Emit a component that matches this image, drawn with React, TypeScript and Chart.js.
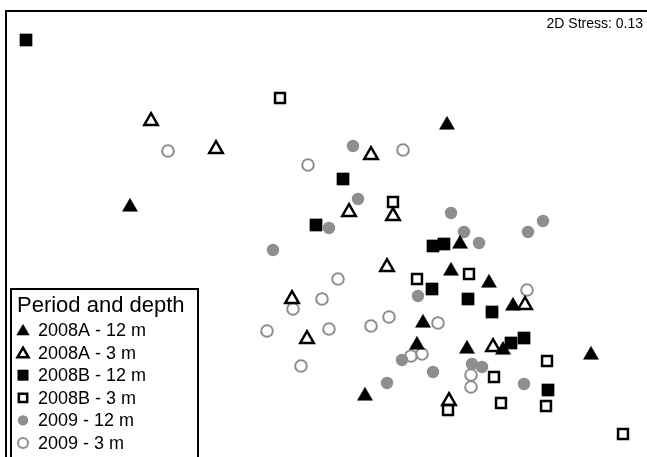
import React, { useEffect, useRef } from "react";
import { Chart, registerables } from "chart.js";
import { drawPoint } from "chart.js/helpers";

Chart.register(...registerables);

// NMDS coordinates (arbitrary units)
const a12x = [-1.90, 1.27, 1.40, 1.31, 1.69, 1.93, 1.03, 0.97, 1.47, 1.83, 2.71, 0.45];
const a12y = [0.13, 0.95, -0.24, -0.51, -0.63, -0.86, -1.03, -1.25, -1.29, -1.30, -1.35, -1.76];

const a3x = [-1.69, -1.04, 0.51, 0.29, 0.73, 0.67, -0.28, -0.13, 2.05, 1.73, 1.29];
const a3y = [0.99, 0.71, 0.65, 0.08, 0.04, -0.47, -0.79, -1.19, -0.85, -1.27, -1.81];

const b12x = [-2.94, 0.23, -0.04, 1.13, 1.24, 1.12, 1.48, 1.72, 1.91, 2.04, 2.28];
const b12y = [1.80, 0.41, -0.05, -0.26, -0.24, -0.69, -0.79, -0.92, -1.23, -1.18, -1.70];

const b3x = [-0.40, 0.73, 0.97, 1.49, 2.27, 1.74, 1.28, 1.81, 2.26, 3.03];
const b3y = [1.22, 0.18, -0.59, -0.54, -1.41, -1.57, -1.90, -1.83, -1.86, -2.14];

const c12x = [0.33, 0.38, 0.09, -0.47, 1.31, 2.23, 2.08, 1.44, 1.59, 0.98, 0.82, 1.13, 0.67, 1.52, 1.62, 2.04];
const c12y = [0.74, 0.21, -0.08, -0.30, 0.07, -0.01, -0.12, -0.12, -0.23, -0.76, -1.40, -1.52, -1.63, -1.44, -1.47, -1.64];

const c3x = [-1.52, -0.12, 0.83, 0.18, 0.02, -0.27, -0.53, 0.09, 0.51, 0.69, 1.18, 2.07, 0.91, 1.02, -0.19, 1.51, 1.51];
const c3y = [0.69, 0.55, 0.70, -0.59, -0.79, -0.89, -1.11, -1.09, -1.06, -0.97, -1.03, -0.70, -1.36, -1.34, -1.46, -1.55, -1.67];

const seriesLabels = ["2008A - 12 m", "2008A - 3 m", "2008B - 12 m", "2008B - 3 m", "2009 - 12 m", "2009 - 3 m"];
const legendTitle = "Period and depth";
const stressLabel = "2D Stress: 0.13";

const GRAY = "#8e8e8e";
const FONT = "'Liberation Sans', Arial, Helvetica, sans-serif";

const pts = (xs: number[], ys: number[]) => xs.map((x, i) => ({ x, y: ys[i] }));

const styles = [
  { pointStyle: "triangle", r: 8.7, bg: "#000", bc: "#000", bw: 0.5, lr: 7.2 },
  { pointStyle: "triangle", r: 7.8, bg: "rgba(0,0,0,0)", bc: "#000", bw: 2.5, lr: 6.4 },
  { pointStyle: "rect", r: 8.6, bg: "#000", bc: "#000", bw: 0.5, lr: 7.4 },
  { pointStyle: "rect", r: 7, bg: "rgba(0,0,0,0)", bc: "#000", bw: 2.5, lr: 5.9 },
  { pointStyle: "circle", r: 6.2, bg: GRAY, bc: GRAY, bw: 0, lr: 5.2 },
  { pointStyle: "circle", r: 5.8, bg: "rgba(0,0,0,0)", bc: GRAY, bw: 2, lr: 5 },
];

const frameAndLegend = {
  id: "frameAndLegend",
  afterDraw(chart: any) {
    const ctx = chart.ctx as CanvasRenderingContext2D;
    ctx.save();
    // plot frame
    ctx.strokeStyle = "#000";
    ctx.lineWidth = 2;
    ctx.beginPath();
    ctx.moveTo(6, 457);
    ctx.lineTo(6, 11);
    ctx.lineTo(647, 11);
    ctx.stroke();

    // stress label
    ctx.fillStyle = "#000";
    ctx.font = `14px ${FONT}`;
    ctx.textAlign = "right";
    ctx.textBaseline = "alphabetic";
    ctx.fillText(stressLabel, 643, 28);

    // legend box
    ctx.fillStyle = "#fff";
    ctx.fillRect(11, 289, 187, 170);
    ctx.strokeStyle = "#000";
    ctx.lineWidth = 2;
    ctx.strokeRect(11, 289, 187, 170);

    ctx.fillStyle = "#000";
    ctx.textAlign = "left";
    ctx.font = `22px ${FONT}`;
    ctx.fillText(legendTitle, 17, 312);

    ctx.font = `18px ${FONT}`;
    seriesLabels.forEach((lab, i) => {
      const base = 336 + i * 22.6;
      const s = styles[i];
      ctx.fillStyle = "#000";
      ctx.fillText(lab, 38, base);
      ctx.fillStyle = s.bg;
      ctx.strokeStyle = s.bc;
      ctx.lineWidth = s.bw;
      drawPoint(ctx, { pointStyle: s.pointStyle as any, radius: s.lr, borderWidth: s.bw, rotation: 0 } as any, 23, base - 6 + (s.pointStyle === "triangle" ? 1.5 : 0));
    });
    ctx.restore();
  },
};

export default function App() {
  const ref = useRef<HTMLCanvasElement | null>(null);
  useEffect(() => {
    if (!ref.current) return;
    const all = [pts(a12x, a12y), pts(a3x, a3y), pts(b12x, b12y), pts(b3x, b3y), pts(c12x, c12y), pts(c3x, c3y)];
    const chart = new Chart(ref.current, {
      type: "scatter",
      data: {
        datasets: all.map((d, i) => ({
          label: seriesLabels[i],
          data: d,
          pointStyle: styles[i].pointStyle as any,
          pointRadius: styles[i].r,
          pointHoverRadius: styles[i].r,
          backgroundColor: styles[i].bg,
          borderColor: styles[i].bc,
          borderWidth: styles[i].bw,
          pointBorderWidth: styles[i].bw,
        })),
      },
      options: {
        animation: false,
        responsive: false,
        maintainAspectRatio: false,
        devicePixelRatio: 1,
        layout: { padding: 0, autoPadding: false },
        plugins: { legend: { display: false }, tooltip: { enabled: false }, title: { display: false } },
        scales: {
          x: { type: "linear", min: -3.2, max: 3.27, display: false },
          y: { type: "linear", min: -2.37, max: 2.2, display: false },
        },
        events: [],
      },
      plugins: [frameAndLegend],
    });
    return () => chart.destroy();
  }, []);
  return (
    <div style={{ position: "fixed", left: 0, top: 0, width: 647, height: 457, background: "#fff" }}>
      <canvas ref={ref} width={647} height={457} style={{ display: "block" }} />
    </div>
  );
}
